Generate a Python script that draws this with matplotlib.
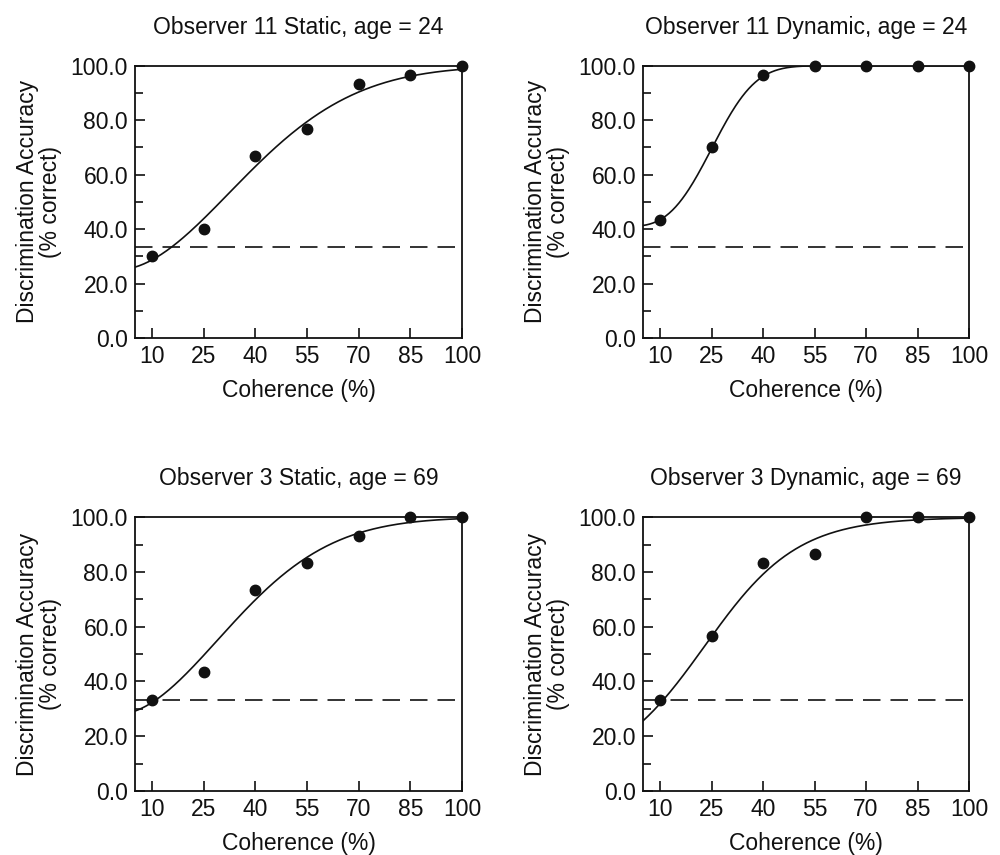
import numpy as np
import matplotlib
matplotlib.use('Agg')
import matplotlib.pyplot as plt
from matplotlib.ticker import MultipleLocator, FormatStrFormatter

plt.rcParams['font.family'] = ['Liberation Sans', 'DejaVu Sans']

coherence = [10, 25, 40, 55, 70, 85, 100]

titles = ['Observer 11 Static, age = 24', 'Observer 11 Dynamic, age = 24',
          'Observer 3 Static, age = 69', 'Observer 3 Dynamic, age = 69']

obs11_static = [30.0, 40.0, 66.7, 76.7, 93.3, 96.7, 100.0]
obs11_dynamic = [43.3, 70.0, 96.7, 100.0, 100.0, 100.0, 100.0]
obs3_static = [33.3, 43.3, 73.3, 83.3, 93.3, 100.0, 100.0]
obs3_dynamic = [33.3, 56.7, 83.3, 86.7, 100.0, 100.0, 100.0]

chance = 33.3

# fitted psychometric curves: (kind, floor, p1, p2)
fits = [('weibull', 25, 48.0, 1.9),
        ('weibull', 41, 28.7, 3.0),
        ('weibull', 28, 43.0, 1.9),
        ('logistic', 6, 23.0, 13.5)]

series = [obs11_static, obs11_dynamic, obs3_static, obs3_dynamic]


def curve(x, kind, g, p1, p2):
    if kind == 'weibull':
        return 100 - (100 - g) * np.exp(-(x / p1) ** p2)
    return g + (100 - g) / (1 + np.exp(-(x - p1) / p2))


ink = '#111111'
fs = 16.5
fig = plt.figure(figsize=(10, 8.55), dpi=100)
boxes = [[0.135, 0.6047, 0.327, 0.3185],
         [0.643, 0.6047, 0.326, 0.3185],
         [0.135, 0.0749, 0.327, 0.3201],
         [0.643, 0.0749, 0.326, 0.3201]]

for i in range(4):
    ax = fig.add_axes(boxes[i])
    xs = np.linspace(5, 100, 300)
    ax.plot(xs, curve(xs, *fits[i]), color=ink, lw=1.2, zorder=3)
    ax.plot([5, 100], [chance, chance], color=ink, lw=1.2, dashes=(10.5, 6), zorder=2)
    ax.plot(coherence, series[i], 'o', color=ink, ms=7.5, clip_on=False, zorder=5)

    ax.set_xlim(5, 100)
    ax.set_ylim(0, 100)
    ax.set_xticks(coherence)
    ax.yaxis.set_major_locator(MultipleLocator(20))
    ax.yaxis.set_minor_locator(MultipleLocator(10))
    ax.yaxis.set_major_formatter(FormatStrFormatter('%.1f'))
    ax.tick_params(which='both', direction='in', color=ink, width=1.2,
                   labelsize=fs, labelcolor=ink, pad=5)
    ax.tick_params(which='major', length=7)
    ax.tick_params(which='minor', length=6)
    for s in ax.spines.values():
        s.set_linewidth(1.3)
        s.set_color(ink)

    ax.set_title(titles[i], fontsize=fs, color=ink, pad=23)
    ax.set_xlabel('Coherence (%)', fontsize=fs, color=ink, labelpad=8)
    ax.set_ylabel('Discrimination Accuracy\n(% correct)', fontsize=fs,
                  color=ink, labelpad=6, linespacing=1.0)

fig.savefig('out.png', dpi=100)
